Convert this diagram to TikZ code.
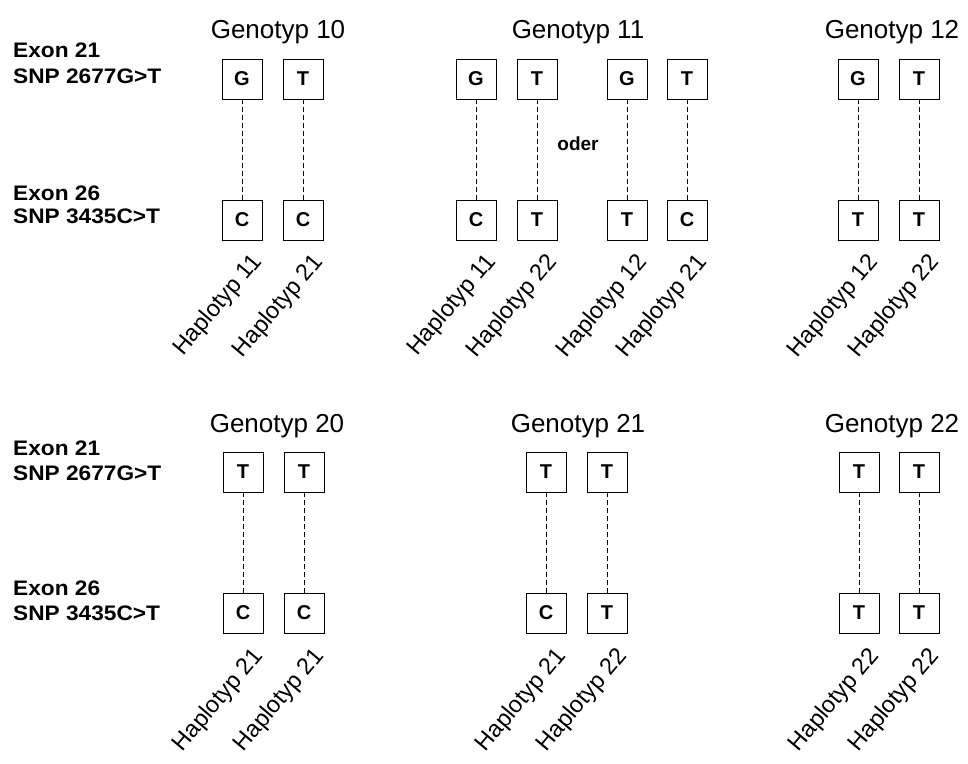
\documentclass[tikz,border=0pt]{standalone}
\usepackage{fontspec}
\setmainfont{Liberation Sans}
\newfontfamily\lblfont[FakeStretch=1.08]{Liberation Sans}
\begin{document}
\begin{tikzpicture}[x=1pt,y=-1pt,
  allele/.style={draw,line width=0.9pt,minimum width=40pt,minimum height=40pt,inner sep=0pt,font=\fontsize{20}{24}\selectfont\bfseries},
  link/.style={line width=0.9pt,dash pattern=on 5pt off 3pt},
  title/.style={anchor=base,inner sep=0pt,font=\fontsize{26}{30}\selectfont},
  side/.style={anchor=base west,inner sep=0pt,font=\lblfont\fontsize{21}{25}\selectfont\bfseries},
  hap/.style={anchor=east,rotate=50,inner sep=0pt,font=\fontsize{23.5}{27}\selectfont}]
\useasboundingbox (0,0) rectangle (968,763);
% left labels
\node[side] (e21a) at (13,57) {Exon 21};
\node[side] (s21a) at (13,83) {SNP 2677G>T};
\node[side] (e26a) at (13,200) {Exon 26};
\node[side] (s26a) at (13,223) {SNP 3435C>T};
\node[side] (e21b) at (13,455) {Exon 21};
\node[side] (s21b) at (13,480) {SNP 2677G>T};
\node[side] (e26b) at (13,595) {Exon 26};
\node[side] (s26b) at (13,620) {SNP 3435C>T};
% titles
\node[title] (g10) at (278,38) {Genotyp 10};
\node[title] (g11) at (578,38) {Genotyp 11};
\node[title] (g12) at (892,38) {Genotyp 12};
\node[title] (g20) at (277,432) {Genotyp 20};
\node[title] (g21) at (578,432) {Genotyp 21};
\node[title] (g22) at (892,432) {Genotyp 22};
\node[inner sep=0pt,anchor=base,font=\fontsize{19}{22}\selectfont\bfseries] (oder) at (578,150) {oder};
% top row
\foreach \x/\u/\l/\h/\n in {242/G/C/11/a,303/T/C/21/b,476/G/C/11/c,537/T/T/22/d,627/G/T/12/e,687/T/C/21/f,858/G/T/12/g,919/T/T/22/h}{
  \node[allele] (u\n) at (\x,79) {\u};
  \node[allele] (l\n) at (\x,220) {\l};
  \draw[link] (u\n) -- (l\n);
  \node[hap] (h\n) at ({\x+16},258) {Haplotyp \h};
}
% bottom row
\foreach \x/\u/\l/\h/\n in {243/T/C/21/i,304/T/C/21/j,546/T/C/21/k,607/T/T/22/m,859/T/T/22/n,919/T/T/22/o}{
  \node[allele] (u\n) at (\x,472) {\u};
  \node[allele] (l\n) at (\x,613) {\l};
  \draw[link] (u\n) -- (l\n);
  \node[hap] (h\n) at ({\x+16},652) {Haplotyp \h};
}
\end{tikzpicture}
\end{document}
